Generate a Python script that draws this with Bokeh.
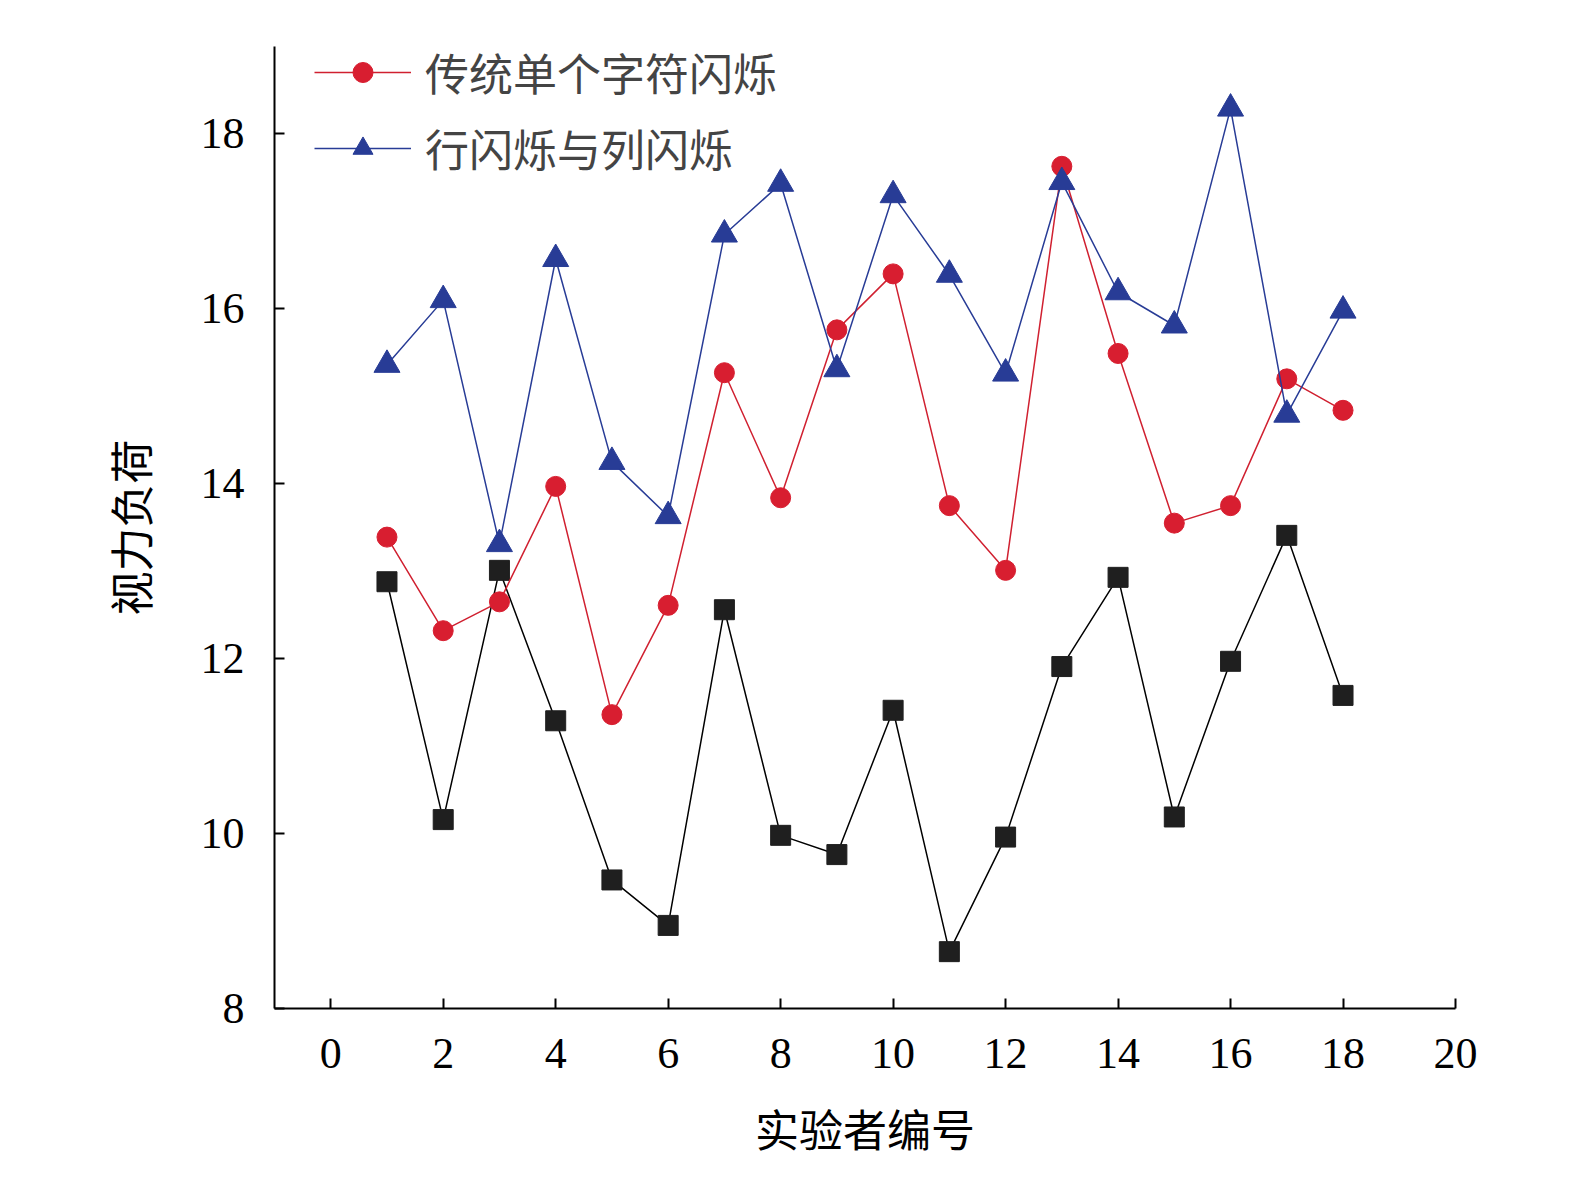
from bokeh.plotting import figure
from bokeh.models import Range1d, Legend, LegendItem, FixedTicker
from bokeh.embed import file_html
from bokeh.resources import INLINE

x = list(range(1, 19))
black = [12.88,10.16,13.01,11.29,9.47,8.95,12.56,9.98,9.76,11.41,8.65,9.96,11.91,12.93,10.19,11.97,13.41,11.58]
red = [13.39,12.32,12.65,13.97,11.36,12.61,15.27,13.84,15.76,16.40,13.75,13.01,17.63,15.49,13.55,13.75,15.20,14.84]
blue = [15.36,16.10,13.31,16.57,14.25,13.63,16.85,17.43,15.31,17.30,16.39,15.26,17.45,16.19,15.81,18.29,14.79,15.98]
names = ["本文提出的交互方式", "传统单个字符闪烁", "行闪烁与列闪烁"]
xticks = list(range(0, 21, 2))
yticks = list(range(8, 19, 2))

p = figure(width=1559, height=1165, output_backend="svg", toolbar_location=None,
           x_range=Range1d(-1, 20), y_range=Range1d(8, 19.0),
           min_border_left=274, min_border_top=46, min_border_right=104, min_border_bottom=157)
p.grid.visible = False
p.outline_line_color = None
for ax in (p.xaxis[0], p.yaxis[0]):
    ax.major_label_text_font = "Liberation Serif"
    ax.major_label_text_font_size = "44px"
    ax.major_label_text_color = "black"
    ax.axis_line_width = 2
    ax.major_tick_line_width = 2
    ax.major_tick_in = 10
    ax.major_tick_out = 0
    ax.minor_tick_line_color = None
    ax.axis_label_text_font = "Noto Sans CJK SC"
    ax.axis_label_text_font_size = "44px"
    ax.axis_label_text_font_style = "normal"
    ax.axis_label_text_color = "black"
p.xaxis.ticker = FixedTicker(ticks=xticks)
p.yaxis.ticker = FixedTicker(ticks=yticks)
p.xaxis.axis_label = "实验者编号"
p.yaxis.axis_label = "视力负荷"
p.xaxis.major_label_standoff = 30
p.yaxis.major_label_standoff = 30
p.xaxis.axis_label_standoff = 25
p.yaxis.axis_label_standoff = 36

l1 = p.line(x, black, color="black", line_width=1.5)
m1 = p.scatter(x, black, marker="square", size=20, color="#1f1f1f")
l2 = p.line(x, red, color="#d02030", line_width=1.5)
m2 = p.scatter(x, red, marker="circle", size=20, color="#d81e30")
l3 = p.line(x, blue, color="#283c96", line_width=1.5)
m3 = p.scatter(x, blue, marker="triangle", size=26, color="#283c96")
items = [LegendItem(label=names[0], renderers=[l1, m1]),
         LegendItem(label=names[1], renderers=[l2, m2]),
         LegendItem(label=names[2], renderers=[l3, m3])]
leg = Legend(items=items, background_fill_alpha=0, border_line_color=None,
             label_text_font="Noto Sans CJK SC", label_text_font_size="44px",
             glyph_width=97, glyph_height=50, spacing=12, label_standoff=14, padding=0, margin=0)
p.add_layout(leg, "center")
leg.location = (40, 1165 - 46 - 157 - 174 + 40)

open("out.html", "w").write(file_html(p, INLINE))
